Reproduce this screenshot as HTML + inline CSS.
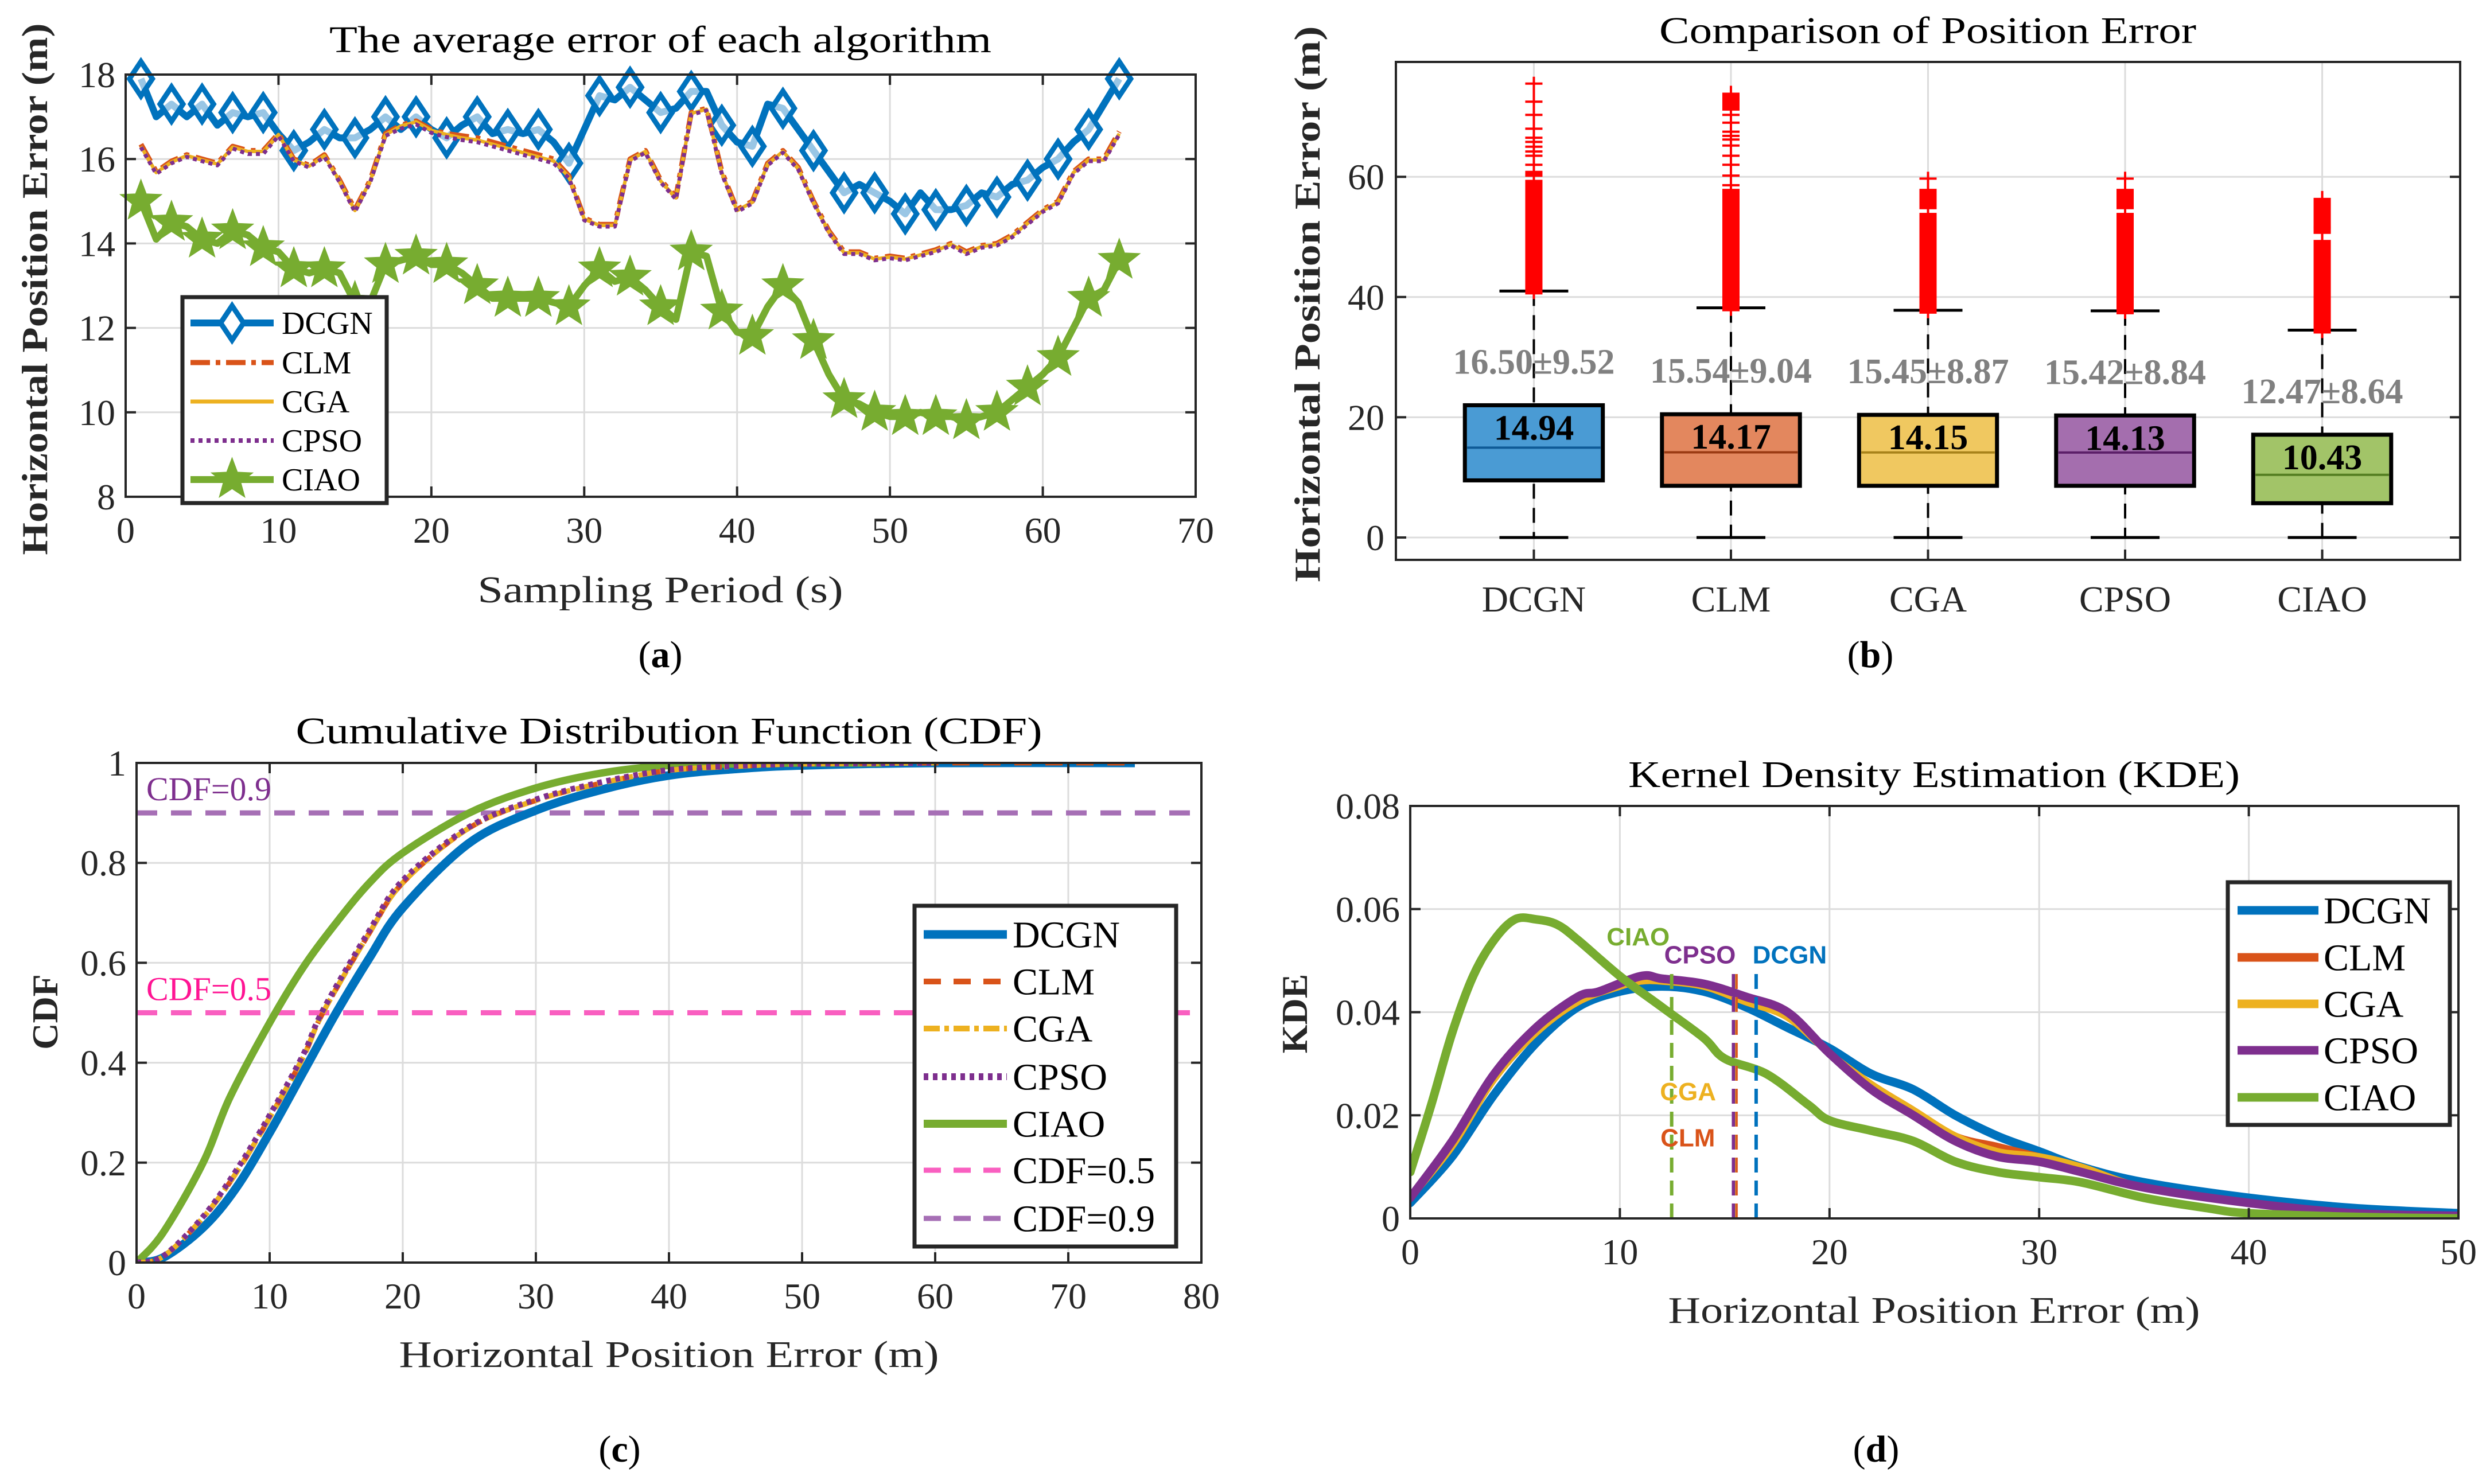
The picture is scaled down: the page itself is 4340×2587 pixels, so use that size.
<!DOCTYPE html>
<html><head><meta charset="utf-8">
<style>
html,body{margin:0;padding:0;background:#fff;}
svg{display:block;}
text{font-family:"Liberation Serif",serif;}
</style></head>
<body>
<svg id="fig" width="4340" height="2587" viewBox="0 0 4340 2587" xmlns="http://www.w3.org/2000/svg" fill="#262626">
<defs>
<clipPath id="clipA"><rect x="219" y="60" width="1865" height="806"/></clipPath>
<clipPath id="clipC"><rect x="238" y="1330" width="1856" height="871"/></clipPath>
<clipPath id="clipD"><rect x="2458" y="1405" width="1827" height="719"/></clipPath>
</defs>
<rect x="0" y="0" width="4340" height="2587" fill="#fff"/>
<g id="panelA"></g>
<g id="panelB"></g>
<g id="panelC"></g>
<g id="panelD"></g>
<g fill="#000">
<text x="1151" y="91" font-size="66" text-anchor="middle" textLength="1154" lengthAdjust="spacingAndGlyphs">The average error of each algorithm</text>
<text x="3360" y="75" font-size="66" text-anchor="middle" textLength="936" lengthAdjust="spacingAndGlyphs">Comparison of Position Error</text>
<text x="1166" y="1296" font-size="66" text-anchor="middle" textLength="1301" lengthAdjust="spacingAndGlyphs">Cumulative Distribution Function (CDF)</text>
<text x="3371" y="1372" font-size="66" text-anchor="middle" textLength="1066" lengthAdjust="spacingAndGlyphs">Kernel Density Estimation (KDE)</text>
<text x="1151" y="1050" font-size="66" text-anchor="middle" textLength="637" lengthAdjust="spacingAndGlyphs" fill="#262626">Sampling Period (s)</text>
<text x="1166" y="2383" font-size="66" text-anchor="middle" textLength="941" lengthAdjust="spacingAndGlyphs" fill="#262626">Horizontal Position Error (m)</text>
<text x="3371" y="2306" font-size="66" text-anchor="middle" textLength="927" lengthAdjust="spacingAndGlyphs" fill="#262626">Horizontal Position Error (m)</text>
<text transform="translate(82,504) rotate(-90)" font-size="64" text-anchor="middle" font-weight="bold" textLength="927" lengthAdjust="spacingAndGlyphs" fill="#262626">Horizontal Position Error (m)</text>
<text transform="translate(2300,530) rotate(-90)" font-size="64" text-anchor="middle" font-weight="bold" textLength="969" lengthAdjust="spacingAndGlyphs" fill="#262626">Horizontal Position Error (m)</text>
<text transform="translate(100,1764) rotate(-90)" font-size="64" text-anchor="middle" font-weight="bold" fill="#262626">CDF</text>
<text transform="translate(2278,1767) rotate(-90)" font-size="64" text-anchor="middle" font-weight="bold" fill="#262626">KDE</text>
<text x="1151" y="1163" font-size="66" text-anchor="middle">(<tspan font-weight="bold">a</tspan>)</text>
<text x="3260" y="1163" font-size="66" text-anchor="middle">(<tspan font-weight="bold">b</tspan>)</text>
<text x="1080" y="2548" font-size="66" text-anchor="middle">(<tspan font-weight="bold">c</tspan>)</text>
<text x="3270" y="2548" font-size="66" text-anchor="middle">(<tspan font-weight="bold">d</tspan>)</text>
</g>
</svg>
<script>
// ---------- DATA: panel (a) ----------
const aTimes = [1,2,3,4,5,6,7,8,9,10,11,12,13,14,15,16,17,18,19,20,21,22,23,24,25,26,27,28,29,30,31,32,33,34,35,36,37,38,39,40,41,42,43,44,45,46,47,48,49,50,51,52,53,54,55,56,57,58,59,60,61,62,63,64,65];
const aDCGN = [17.9,17.0,17.3,17.0,17.3,16.8,17.1,17.0,17.1,16.6,16.2,16.4,16.7,16.5,16.5,16.7,17.0,16.7,17.0,16.7,16.5,16.8,17.0,16.6,16.7,16.6,16.7,16.4,15.9,16.7,17.5,17.4,17.7,17.4,17.1,17.2,17.6,17.6,16.8,16.4,16.3,17.3,17.2,16.7,16.2,15.7,15.2,15.4,15.2,15.0,14.7,15.2,14.8,14.8,14.9,15.2,15.1,15.4,15.5,15.8,16.0,16.4,16.7,17.3,17.9];
const aCLM = [16.35,15.7,15.95,16.1,16.0,15.9,16.3,16.2,16.2,16.6,16.0,15.85,16.1,15.5,14.8,15.5,16.6,16.8,16.9,16.7,16.6,16.55,16.5,16.4,16.3,16.2,16.1,16.0,15.6,14.6,14.45,14.45,16.0,16.2,15.5,15.1,17.1,17.2,15.7,14.8,15.0,15.9,16.2,15.8,15.0,14.3,13.8,13.8,13.65,13.7,13.65,13.75,13.85,14.0,13.8,13.95,14.0,14.2,14.5,14.8,15.0,15.7,16.0,16.0,16.65];
const aCGA = [16.3,15.68,15.93,16.08,15.98,15.88,16.28,16.18,16.18,16.58,15.98,15.83,16.08,15.48,14.78,15.48,16.58,16.78,16.88,16.68,16.58,16.5,16.45,16.35,16.25,16.15,16.05,15.95,15.58,14.58,14.43,14.43,15.98,16.18,15.48,15.08,17.08,17.18,15.68,14.78,14.98,15.88,16.18,15.78,14.98,14.28,13.78,13.78,13.63,13.68,13.63,13.73,13.83,13.98,13.78,13.93,13.98,14.18,14.48,14.78,14.98,15.68,15.98,15.98,16.6];
const aCPSO = [16.28,15.65,15.9,16.05,15.95,15.85,16.25,16.12,16.12,16.55,15.95,15.8,16.05,15.45,14.75,15.45,16.55,16.72,16.82,16.62,16.52,16.45,16.4,16.3,16.2,16.1,16.0,15.9,15.55,14.55,14.4,14.4,15.95,16.15,15.45,15.05,17.05,17.15,15.65,14.75,14.95,15.85,16.15,15.75,14.95,14.25,13.75,13.75,13.6,13.65,13.6,13.7,13.8,13.95,13.75,13.9,13.95,14.15,14.45,14.75,14.95,15.65,15.95,15.95,16.58];
const aCIAO = [15.0,14.1,14.5,14.4,14.1,14.0,14.3,14.2,13.9,13.8,13.4,13.3,13.4,13.3,12.6,12.6,13.5,13.6,13.7,13.5,13.5,13.3,13.0,12.7,12.7,12.7,12.7,12.6,12.5,13.0,13.4,13.1,13.2,12.9,12.5,12.2,13.8,13.7,12.4,11.9,11.8,12.5,13.0,12.6,11.7,10.9,10.3,10.2,10.0,9.9,9.9,10.0,9.9,9.9,9.8,9.9,10.0,10.3,10.6,10.9,11.3,12.0,12.7,12.9,13.6];
const aXTicks = [0,10,20,30,40,50,60,70];
const aYTicks = [8,10,12,14,16,18];
// ---------- DATA: panel (b) ----------
const bCategories = ['DCGN','CLM','CGA','CPSO','CIAO'];
const bQ1 = [9.5,8.6,8.6,8.6,5.7];
const bQ3 = [22.0,20.5,20.4,20.3,17.1];
const bMedian = [14.94,14.17,14.15,14.13,10.43];
const bWhiskerLow = [0,0,0,0,0];
const bWhiskerHigh = [41.0,38.2,37.8,37.7,34.5];
const bMeanStd = ['16.50±9.52','15.54±9.04','15.45±8.87','15.42±8.84','12.47±8.64'];
const bDenseTop = [59.5,58.0,54.0,54.0,49.5];
const bDense2Lo = [60.0,71.0,54.6,54.6,50.5];
const bDense2Hi = [61.0,74.0,58.0,58.0,56.5];
const bSparse = [[62,63.5,64.2,65,65.8,66.5,68,70.3,72.5,75.5],[58.6,60.2,62.0,63.5,65.2,66.2,66.8,67.5,69.0,70.3],[59.7],[59.7],[51.6]];
const bYTicks = [0,20,40,60];
// ---------- DATA: panel (c) ----------
const cDCGNx = [0,2,5,7.5,10,12.5,15,17.5,20,25,30,35,40,45,50,60,75];
const cDCGNy = [0,0.01,0.07,0.15,0.26,0.38,0.5,0.61,0.71,0.84,0.905,0.947,0.975,0.988,0.995,1,1];
const cCLMx = [0,2,5,7.5,10,12.5,14,17.5,20,25,30,35,40,45,50,60,75];
const cCLMy = [0,0.012,0.09,0.18,0.29,0.41,0.5,0.66,0.76,0.87,0.925,0.96,0.985,0.993,0.998,1,1];
const cCGAx = [0,2,5,7.5,10,12.5,14,17.5,20,25,30,35,40,45,50,60];
const cCGAy = [0,0.012,0.09,0.18,0.29,0.41,0.5,0.66,0.76,0.87,0.925,0.96,0.985,0.993,0.998,1];
const cCPSOx = [0,2,5,7.5,10,12.5,14,17.5,20,25,30,35,40,45,50,60];
const cCPSOy = [0,0.013,0.092,0.185,0.295,0.415,0.505,0.665,0.765,0.872,0.927,0.962,0.986,0.994,0.998,1];
const cCIAOx = [0,2,5,7,10,12.5,15,17.5,20,25,30,35,40,45,50,56];
const cCIAOy = [0,0.06,0.2,0.33,0.48,0.59,0.68,0.76,0.82,0.9,0.95,0.98,0.995,0.998,1,1];
const cThresholds = [0.5,0.9];
const cXTicks = [0,10,20,30,40,50,60,70,80];
const cYTicks = [0,0.2,0.4,0.6,0.8,1];
const cYTickLabels = ['0','0.2','0.4','0.6','0.8','1'];
// ---------- DATA: panel (d) ----------
const dDCGNx = [0,2,4,6,8,10,12,14,16,18,20,22,24,26,28,30,32,35,40,45,50];
const dDCGNy = [0.003,0.012,0.024,0.034,0.041,0.044,0.045,0.044,0.041,0.037,0.033,0.028,0.025,0.020,0.016,0.013,0.010,0.007,0.004,0.002,0.001];
const dCLMx = [0,2,4,6,8,10,11,12,14,16,18,20,22,24,26,28,30,32,35,40,45,50];
const dCLMy = [0.004,0.014,0.027,0.036,0.042,0.045,0.046,0.046,0.045,0.042,0.039,0.032,0.026,0.021,0.016,0.014,0.012,0.010,0.006,0.003,0.001,0.0005];
const dCGAx = [0,2,4,6,8,10,11,12,14,16,18,20,22,24,26,28,30,32,35,40,45,50];
const dCGAy = [0.004,0.014,0.027,0.036,0.042,0.045,0.046,0.046,0.045,0.042,0.039,0.032,0.026,0.021,0.016,0.013,0.012,0.010,0.006,0.003,0.001,0.0005];
const dCPSOx = [0,2,4,6,8,9,11,12,14,16,18,20,22,24,26,28,30,32,35,40,45,50];
const dCPSOy = [0.004,0.015,0.028,0.037,0.043,0.044,0.047,0.0465,0.0455,0.043,0.040,0.032,0.025,0.020,0.015,0.012,0.011,0.009,0.006,0.003,0.001,0.0005];
const dCIAOx = [0,1,2,3,4,5,6,7,8,10,12,14,15,17,19,20,22,24,26,28,30,32,35,38,40,45,50];
const dCIAOy = [0.009,0.022,0.036,0.047,0.054,0.058,0.058,0.057,0.054,0.047,0.041,0.035,0.031,0.028,0.022,0.019,0.017,0.015,0.011,0.009,0.008,0.007,0.004,0.002,0.001,0.0003,0];
const dMeans = [16.50,15.54,15.45,15.42,12.47];
const dXTicks = [0,10,20,30,40,50];
const dYTicks = [0,0.02,0.04,0.06,0.08];
const dYTickLabels = ['0','0.02','0.04','0.06','0.08'];

const COL = {DCGN:'#0072BD',CLM:'#D95319',CGA:'#EDB120',CPSO:'#7E2F8E',CIAO:'#77AC30'};
const NS = 'http://www.w3.org/2000/svg';
function mk(tag, attrs, parent){const e=document.createElementNS(NS,tag);for(const k in attrs)e.setAttribute(k,attrs[k]);parent.appendChild(e);return e;}
function linePath(xs, ys, fx, fy){let d='';for(let i=0;i<xs.length;i++)d+=(i?'L':'M')+fx(xs[i]).toFixed(1)+','+fy(ys[i]).toFixed(1);return d;}
function smoothPath(xs, ys, fx, fy){
  const p=xs.map((x,i)=>[fx(x),fy(ys[i])]);let d='M'+p[0][0].toFixed(1)+','+p[0][1].toFixed(1);
  for(let i=0;i<p.length-1;i++){const p0=p[i-1]||p[i],p1=p[i],p2=p[i+1],p3=p[i+2]||p2;
    const c1=[p1[0]+(p2[0]-p0[0])/6,p1[1]+(p2[1]-p0[1])/6],c2=[p2[0]-(p3[0]-p1[0])/6,p2[1]-(p3[1]-p1[1])/6];
    d+='C'+c1.map(v=>v.toFixed(1)).join(',')+' '+c2.map(v=>v.toFixed(1)).join(',')+' '+p2[0].toFixed(1)+','+p2[1].toFixed(1);}
  return d;}
function frame(g,L,R,T,B,xt,yt,fx,fy,xl,yl,prefix){
  for(const v of xt){const x=fx(v);
    const gl=mk('line',{x1:x,x2:x,y1:T,y2:B,stroke:'#dcdcdc','stroke-width':3},g);
    
    }
  for(const v of yt){const y=fy(v);
    const gl=mk('line',{x1:L,x2:R,y1:y,y2:y,stroke:'#dcdcdc','stroke-width':3},g);
    
    }
}
function axesBox(g,L,R,T,B,xt,yt,fx,fy,xl,yl,prefix,tickX){
  const bx=mk('rect',{x:L,y:T,width:R-L,height:B-T,fill:'none',stroke:'#262626','stroke-width':4},g);
  
  
  xt.forEach((v,i)=>{const x=fx(v);
    if(tickX){mk('line',{x1:x,x2:x,y1:B,y2:B-18,stroke:'#262626','stroke-width':4},g);mk('line',{x1:x,x2:x,y1:T,y2:T+18,stroke:'#262626','stroke-width':4},g);}
    const t=mk('text',{x:x,y:B+80,'font-size':64,'text-anchor':'middle',fill:'#262626'},g);t.textContent=xl[i];
    
    });
  yt.forEach((v,i)=>{const y=fy(v);
    mk('line',{x1:L,x2:L+18,y1:y,y2:y,stroke:'#262626','stroke-width':4},g);mk('line',{x1:R,x2:R-18,y1:y,y2:y,stroke:'#262626','stroke-width':4},g);
    const t=mk('text',{x:L-18,y:y+22,'font-size':64,'text-anchor':'end',fill:'#262626'},g);t.textContent=yl[i];
    
    });
}
function legend(g,x0,y0,x1,y1,items,ys,lx0,lx1,tx,fs,prefix){
  const r=mk('rect',{x:x0,y:y0,width:x1-x0,height:y1-y0,fill:'#fff',stroke:'#262626','stroke-width':7},g);
  
  
  items.forEach((it,i)=>{const y=ys[i];
    const ln=mk('line',{x1:lx0,x2:lx1,y1:y,y2:y,stroke:it.c,'stroke-width':it.w,'stroke-dasharray':it.dash||'none'},g);
    
    
    if(it.m==='d'){const mm=mk('path',{d:`M${(lx0+lx1)/2},${y-30}L${(lx0+lx1)/2+20},${y}L${(lx0+lx1)/2},${y+30}L${(lx0+lx1)/2-20},${y}Z`,fill:'#fff',stroke:it.c,'stroke-width':9},g);
      }
    if(it.m==='s'){const mm=mk('path',{d:starPath((lx0+lx1)/2,y,34),fill:it.c,stroke:it.c,'stroke-width':4},g);
      }
    const t=mk('text',{x:tx,y:y+fs*0.34,'font-size':fs,fill:'#000'},g);t.textContent=it.n;
    
    });
}
function starPath(cx,cy,R){let d='';for(let i=0;i<10;i++){const r=i%2?R*0.42:R;const a=-Math.PI/2+i*Math.PI/5;d+=(i?'L':'M')+(cx+r*Math.cos(a)).toFixed(1)+','+(cy+r*Math.sin(a)).toFixed(1);}return d+'Z';}

// ---------- PANEL A ----------
(function(){
const g=document.getElementById('panelA');
const L=219,R=2084,T=130,B=866;
const fx=t=>L+t*(R-L)/70, fy=v=>B-(v-8)*(B-T)/10;
frame(g,L,R,T,B,aXTicks,aYTicks,fx,fy,null,null,'a');
const series=[
 {n:'CLM',y:aCLM,w:9,dash:'34,12,8,12'},
 {n:'CGA',y:aCGA,w:6,dash:'none'},
 {n:'CPSO',y:aCPSO,w:7,dash:'7,7'},
];
const pD=mk('path',{d:linePath(aTimes,aDCGN,fx,fy),fill:'none',stroke:COL.DCGN,'stroke-width':12,'stroke-linejoin':'round'},g);


aTimes.forEach((t,i)=>{if(i%2)return;const x=fx(t),y=fy(aDCGN[i]);
  const m=mk('path',{d:`M${x},${y-30}L${x+20},${y}L${x},${y+30}L${x-20},${y}Z`,fill:'#fff','fill-opacity':0.6,stroke:COL.DCGN,'stroke-width':9},g);
  
  });
series.forEach(s=>{const p=mk('path',{d:linePath(aTimes,s.y,fx,fy),fill:'none',stroke:COL[s.n],'stroke-width':s.w,'stroke-dasharray':s.dash,'stroke-linejoin':'round'},g);
  
  });
const pC=mk('path',{d:linePath(aTimes,aCIAO,fx,fy),fill:'none',stroke:COL.CIAO,'stroke-width':12,'stroke-linejoin':'round'},g);


aTimes.forEach((t,i)=>{if(i%2)return;
  const m=mk('path',{d:starPath(fx(t),fy(aCIAO[i]),34),fill:COL.CIAO,stroke:COL.CIAO,'stroke-width':4},g);
  
  });
axesBox(g,L,R,T,B,aXTicks,aYTicks,fx,fy,aXTicks.map(String),aYTicks.map(String),'a',true);
legend(g,318,518,674,877,[
 {n:'DCGN',c:COL.DCGN,w:12,m:'d'},{n:'CLM',c:COL.CLM,w:9,dash:'34,10,8,10'},{n:'CGA',c:COL.CGA,w:7},{n:'CPSO',c:COL.CPSO,w:8,dash:'7,7'},{n:'CIAO',c:COL.CIAO,w:12,m:'s'}],
 [563,632,700,768,836],332,477,491,56,'a');
})();

// ---------- PANEL B ----------
(function(){
const g=document.getElementById('panelB');
const L=2433,R=4288,T=108,B=976;
const step=(R-L)/5.4;
const fx=i=>L+(i+1-0.3)*step, fy=v=>937-v*10.48;
const idx=bCategories.map((c,i)=>i);
frame(g,L,R,T,B,idx,bYTicks,fx,fy,null,null,'b');
const fills=['#4A9BD4','#E3875E','#F0C860','#A46EAE','#A2C468'];
const meds=['#0E5A96','#9A3A12','#A8821A','#5B1F68','#557F22'];
const hw=0.35*step;
idx.forEach(i=>{const x=fx(i),name=bCategories[i].toLowerCase();
  const wl=mk('line',{x1:x,x2:x,y1:fy(bWhiskerHigh[i]),y2:fy(bWhiskerLow[i]),stroke:'#000','stroke-width':4,'stroke-dasharray':'26,16'},g);
  
  
  [bWhiskerHigh[i],bWhiskerLow[i]].forEach(v=>{const c=mk('line',{x1:x-60,x2:x+60,y1:fy(v),y2:fy(v),stroke:'#000','stroke-width':5},g);
    
    });
  const d1=mk('rect',{x:x-15,y:fy(bDenseTop[i]),width:30,height:fy(bWhiskerHigh[i])-fy(bDenseTop[i])+6,fill:'#ff0000'},g);
  
  
  const d2=mk('rect',{x:x-15,y:fy(bDense2Hi[i]),width:30,height:fy(bDense2Lo[i])-fy(bDense2Hi[i]),fill:'#ff0000'},g);
  
  
  const ol=mk('line',{x1:x,x2:x,y1:fy(Math.max(...bSparse[i],bDense2Hi[i]))-12,y2:fy(bWhiskerHigh[i])+14,stroke:'#ff0000','stroke-width':4},g);
  
  
  bSparse[i].forEach(v=>{const pm=mk('line',{x1:x-15,x2:x+15,y1:fy(v),y2:fy(v),stroke:'#ff0000','stroke-width':4},g);
    
    });
  const bx=mk('rect',{x:x-hw,y:fy(bQ3[i]),width:2*hw,height:fy(bQ1[i])-fy(bQ3[i]),fill:fills[i],stroke:'#000','stroke-width':7},g);
  
  
  const md=mk('line',{x1:x-hw+4,x2:x+hw-4,y1:fy(bMedian[i]),y2:fy(bMedian[i]),stroke:meds[i],'stroke-width':4},g);
  
  
  const mt=mk('text',{x:x,y:fy(bQ3[i])+60,'font-size':62,'font-weight':'bold','text-anchor':'middle',fill:'#000'},g);
  mt.textContent=bMedian[i].toFixed(2);
  
  
  const st=mk('text',{x:x,y:fy(bQ3[i])-55,'font-size':62,'font-weight':'bold','text-anchor':'middle',fill:'#808080'},g);
  st.textContent=bMeanStd[i];
  
  
});
const bx=mk('rect',{x:L,y:T,width:R-L,height:B-T,fill:'none',stroke:'#262626','stroke-width':4},g);


idx.forEach(i=>{const t=mk('text',{x:fx(i),y:B+90,'font-size':64,'text-anchor':'middle',fill:'#262626'},g);t.textContent=bCategories[i];
  
  
  mk('line',{x1:fx(i),x2:fx(i),y1:B,y2:B-18,stroke:'#262626','stroke-width':4},g);});
bYTicks.forEach(v=>{const y=fy(v);mk('line',{x1:L,x2:L+18,y1:y,y2:y,stroke:'#262626','stroke-width':4},g);mk('line',{x1:R,x2:R-18,y1:y,y2:y,stroke:'#262626','stroke-width':4},g);
  const t=mk('text',{x:L-20,y:y+22,'font-size':64,'text-anchor':'end',fill:'#262626'},g);t.textContent=String(v);
  
  });
})();

// ---------- PANEL C ----------
(function(){
const g=document.getElementById('panelC');
const L=238,R=2094,T=1330,B=2201;
const fx=v=>L+v*(R-L)/80, fy=p=>B-p*(B-T);
frame(g,L,R,T,B,cXTicks,cYTicks,fx,fy,null,null,'c');
const thrCol=['#F95FC0','#A66FB5'];
cThresholds.forEach((v,i)=>{const l=mk('line',{x1:L,x2:R,y1:fy(v),y2:fy(v),stroke:thrCol[i],'stroke-width':9,'stroke-dasharray':'36,24'},g);
  
  
  const t=mk('text',{x:255,y:fy(v)-22,'font-size':58,fill:i?'#7E2F8E':'#FF1493'},g);t.textContent='CDF='+v;
  
  });
const cg=mk('g',{'clip-path':'url(#clipC)'},g);
const S=[
 {n:'DCGN',x:cDCGNx,y:cDCGNy,w:15,dash:'none'},
 {n:'CIAO',x:cCIAOx,y:cCIAOy,w:13,dash:'none'},
 {n:'CLM',x:cCLMx,y:cCLMy,w:9,dash:'30,24'},
 {n:'CGA',x:cCGAx,y:cCGAy,w:9,dash:'28,10,8,10'},
 {n:'CPSO',x:cCPSOx,y:cCPSOy,w:10,dash:'8,8'}];
S.forEach(s=>{const p=mk('path',{d:smoothPath(s.x,s.y,fx,fy),fill:'none',stroke:COL[s.n],'stroke-width':s.w,'stroke-dasharray':s.dash},cg);
  
  });
axesBox(g,L,R,T,B,cXTicks,cYTicks,fx,fy,cXTicks.map(String),cYTickLabels,'c',true);
legend(g,1594,1579,2050,2173,[
 {n:'DCGN',c:COL.DCGN,w:15},{n:'CLM',c:COL.CLM,w:10,dash:'30,22'},{n:'CGA',c:COL.CGA,w:10,dash:'28,8,8,8'},{n:'CPSO',c:COL.CPSO,w:12,dash:'8,8'},{n:'CIAO',c:COL.CIAO,w:14},{n:'CDF=0.5',c:'#F95FC0',w:9,dash:'30,22'},{n:'CDF=0.9',c:'#A66FB5',w:9,dash:'30,22'}],
 [1629,1711,1793,1877,1959,2040,2124],1610,1755,1765,66,'c');
})();

// ---------- PANEL D ----------
(function(){
const g=document.getElementById('panelD');
const L=2458,R=4285,T=1405,B=2124;
const fx=v=>L+v*(R-L)/50, fy=k=>B-k*(B-T)/0.08;
frame(g,L,R,T,B,dXTicks,dYTicks,fx,fy,null,null,'d');
const cg=mk('g',{'clip-path':'url(#clipD)'},g);
const S=[
 {n:'DCGN',x:dDCGNx,y:dDCGNy},{n:'CLM',x:dCLMx,y:dCLMy},{n:'CGA',x:dCGAx,y:dCGAy},{n:'CPSO',x:dCPSOx,y:dCPSOy},{n:'CIAO',x:dCIAOx,y:dCIAOy}];
S.forEach(s=>{const p=mk('path',{d:smoothPath(s.x,s.y,fx,fy),fill:'none',stroke:COL[s.n],'stroke-width':s.n==='CLM'||s.n==='CGA'?12:15,'stroke-linecap':'round'},cg);
  
  });
const mNames=['DCGN','CLM','CGA','CPSO','CIAO'];
dMeans.forEach((m,i)=>{const l=mk('line',{x1:fx(m),x2:fx(m),y1:B,y2:fy(0.048),stroke:COL[mNames[i]],'stroke-width':6,'stroke-dasharray':'26,14'},g);
  
  });
const lab=[['CIAO',dMeans[4]-1.6,0.0545],['CPSO',dMeans[3]-1.6,0.0510],['DCGN',dMeans[0]+1.6,0.0510],['CGA',dMeans[2]-2.2,0.0245],['CLM',dMeans[1]-2.3,0.0155]];
lab.forEach(a=>{const t=mk('text',{x:fx(a[1]),y:fy(a[2])+14,'font-size':44,'font-weight':'bold','text-anchor':'middle',fill:COL[a[0]],style:'font-family:"Liberation Sans",sans-serif'},g);
  t.textContent=a[0];
  
  });
axesBox(g,L,R,T,B,dXTicks,dYTicks,fx,fy,dXTicks.map(String),dYTickLabels,'d',true);
legend(g,3883,1538,4270,1961,[
 {n:'DCGN',c:COL.DCGN,w:15},{n:'CLM',c:COL.CLM,w:15},{n:'CGA',c:COL.CGA,w:15},{n:'CPSO',c:COL.CPSO,w:15},{n:'CIAO',c:COL.CIAO,w:15}],
 [1587,1669,1750,1831,1913],3900,4041,4050,66,'d');
})();
</script>
</body></html>
